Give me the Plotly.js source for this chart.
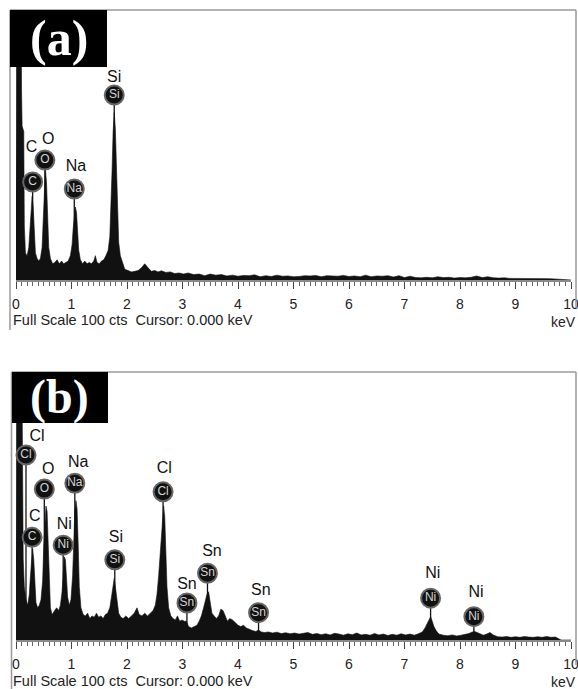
<!DOCTYPE html>
<html><head><meta charset="utf-8">
<script src="https://cdn.plot.ly/plotly-3.0.1.min.js"></script>
<style>html,body{margin:0;padding:0;background:#fff}#chart{width:578px;height:689px}</style>
</head><body><div id="chart"></div>
<script>
// ---------- Data ----------
const tickLabels = ['0','1','2','3','4','5','6','7','8','9','10'];
const tickValues = [0,1,2,3,4,5,6,7,8,9,10];

// Panel (a) spectrum: energy (keV) and counts
const energyA = [0.00,0.02,0.05,0.08,0.10,0.11,0.14,0.15,0.17,0.20,0.23,0.25,0.27,0.29,0.31,0.33,0.35,0.38,0.41,0.44,0.47,0.49,0.51,0.53,0.55,0.57,0.59,0.62,0.66,0.70,0.74,0.78,0.82,0.86,0.90,0.94,0.98,1.01,1.03,1.05,1.07,1.09,1.11,1.13,1.16,1.20,1.24,1.28,1.32,1.36,1.40,1.43,1.46,1.50,1.54,1.58,1.62,1.66,1.69,1.71,1.73,1.75,1.77,1.79,1.81,1.83,1.85,1.88,1.92,1.96,2.02,2.08,2.14,2.20,2.26,2.32,2.38,2.44,2.50,2.56,2.62,2.70,2.78,2.86,2.94,3.02,3.10,3.20,3.30,3.40,3.50,3.60,3.70,3.80,3.90,4.00,4.10,4.20,4.30,4.40,4.50,4.60,4.70,4.80,4.90,5.00,5.10,5.20,5.30,5.40,5.50,5.60,5.70,5.80,5.90,6.00,6.10,6.20,6.30,6.40,6.50,6.60,6.70,6.80,6.90,7.00,7.10,7.20,7.30,7.40,7.50,7.60,7.70,7.80,7.90,8.00,8.10,8.20,8.30,8.40,8.50,8.60,8.70,8.80,8.90,9.00,9.10,9.20,9.30,9.40,9.50,9.60,9.70,9.80,9.86,10.00];
const countsA = [30,150,180,160,70,57,55,20,10,9,12,18,26,31,27,16,10,8,7,8,12,22,34,41,36,22,12,8,6,6.5,7.5,6,7,6,6.5,7,9,13,19,24,27,25,17,11,7.5,6,7,6,6.5,6,7,9,6.5,6,7,7.5,9,11,16,25,40,55,62,56,40,24,14,9,6,4,3.5,3,3.2,3.5,4.5,6,4.5,3.2,3.5,3,3.4,2.8,3,2.4,2.6,2.2,2.6,2,2.2,1.6,2.2,1.8,2,1.5,1.8,1.4,1.7,1.6,1.9,1.2,1.6,1.3,1.8,1.4,1.5,1.2,1.3,1.6,1.5,1.7,1.2,1.6,1.5,1.4,1.7,1.3,1.5,1.2,1.8,1.2,1.5,1.4,1.6,1.1,1.6,0.9,1.4,0.9,0.8,1.0,0.8,1.2,0.9,1.0,0.7,0.9,0.8,1.0,1.5,0.9,1.2,0.8,0.7,0.8,0.6,0.6,0.7,0.5,0.6,0.5,0.6,0.5,0.4,0.3,0,0];

// Panel (a) element markers
const elementsA = ['C','O','Na','Si'];
const markerXA = [0.30,0.52,1.05,1.77];
const markerYA = [36.3,44.4,33.7,68.5];
const labelXA  = [0.28,0.58,1.08,1.77];
const labelYA  = [49.0,51.9,42.0,74.8];

// Panel (b) spectrum
const energyB = [0.00,0.02,0.05,0.08,0.11,0.13,0.15,0.18,0.21,0.24,0.26,0.28,0.30,0.32,0.34,0.36,0.39,0.42,0.45,0.48,0.50,0.52,0.54,0.56,0.58,0.60,0.62,0.65,0.69,0.73,0.77,0.80,0.83,0.85,0.87,0.89,0.91,0.93,0.96,0.99,1.02,1.04,1.06,1.08,1.10,1.12,1.14,1.17,1.21,1.25,1.29,1.33,1.37,1.41,1.45,1.49,1.53,1.57,1.61,1.65,1.69,1.72,1.75,1.77,1.79,1.82,1.85,1.89,1.93,1.98,2.03,2.08,2.13,2.18,2.22,2.27,2.32,2.37,2.42,2.47,2.51,2.54,2.57,2.60,2.63,2.66,2.68,2.70,2.72,2.75,2.79,2.83,2.87,2.91,2.95,2.99,3.03,3.07,3.11,3.16,3.21,3.26,3.30,3.34,3.38,3.41,3.44,3.47,3.50,3.53,3.57,3.61,3.65,3.69,3.73,3.77,3.81,3.85,3.90,3.95,4.00,4.05,4.10,4.15,4.20,4.26,4.32,4.37,4.42,4.48,4.55,4.62,4.70,4.78,4.86,4.94,5.02,5.10,5.18,5.26,5.34,5.42,5.50,5.58,5.66,5.74,5.82,5.90,5.98,6.06,6.14,6.22,6.30,6.38,6.46,6.54,6.62,6.70,6.78,6.86,6.94,7.02,7.10,7.18,7.26,7.32,7.37,7.41,7.44,7.47,7.50,7.53,7.57,7.62,7.70,7.78,7.86,7.94,8.02,8.10,8.16,8.21,8.26,8.31,8.36,8.42,8.48,8.54,8.60,8.68,8.76,8.84,8.92,9.00,9.08,9.16,9.24,9.32,9.40,9.48,9.56,9.64,9.72,9.78,9.82,10.00];
const countsB = [30,150,180,160,90,30,20,15,13,17,24,31,34,30,20,14,12,13,15,22,35,46,50,48,36,20,12,9.5,11,12,11,13,18,26,31,30,22,16,13,15,24,38,48,52,49,36,20,12,9.5,9,10,8,9,8.5,10,8.5,9,8,9.5,10,12,16,21,23,20,14,10,8.5,8,9,8,9,10,12,9.5,9,10,9,10,11,13,17,24,32,42,50,46,32,20,12,9,8,7.5,9,7,7.5,7,7,5,4.5,5,5.5,7,9,12,15,17,18,14,10,9,8,9,11.5,11,9,7,8,7.5,6.5,5.5,5,5.5,4.5,4,3.5,3.2,3.7,3,2.8,3,2.6,2.9,2.4,2.7,2.3,2.6,2.2,2.5,2.8,2.1,2.4,2.0,2.3,1.9,2.5,2.2,1.8,2.3,2.0,2.6,1.9,2.1,1.8,2.4,1.9,2.2,1.7,2.1,1.8,2.3,1.9,2.2,1.8,2.4,3,4.5,6,7.5,8.7,7,5,3.5,2.2,1.8,1.6,1.9,1.5,1.8,2.0,2.4,2.9,3.2,2.8,2.2,1.8,2.2,2.8,1.9,1.2,1.1,1.3,1.0,1.2,1.0,1.3,1.1,1.0,1.2,1.0,1.3,1.0,1.1,0.6,0,0];

// Panel (b) element markers
const elementsB = ['Cl','C','O','Ni','Na','Si','Cl','Sn','Sn','Sn','Ni','Ni'];
const markerXB = [0.18,0.29,0.51,0.85,1.06,1.78,2.65,3.08,3.45,4.37,7.47,8.25];
const markerYB = [69.0,38.3,56.3,35.4,58.5,29.9,55.3,13.8,24.9,10.2,15.6,8.7];
const labelXB  = [0.38,0.34,0.58,0.87,1.12,1.80,2.67,3.08,3.53,4.41,7.51,8.29];
const labelYB  = [75.9,46.0,63.4,42.9,65.9,37.9,63.7,20.5,32.9,18.4,24.5,17.4];

// ---------- Layout helpers ----------
const W = 578, H = 689;
const fx = p => p / W;
const fy = p => 1 - p / H;
const FONT = 'Liberation Sans, Arial, sans-serif';

function stems(xs, ys, xa, ya) {
  const x = [], y = [];
  xs.forEach((v, i) => { x.push(v, v, null); y.push(ys[i], 0, null); });
  return {type:'scatter', mode:'lines', x, y, xaxis:xa, yaxis:ya,
          line:{color:'#111', width:1.3}, hoverinfo:'skip'};
}
function spectrum(xs, ys, xa, ya) {
  return {type:'scatter', mode:'lines', x:xs, y:ys, xaxis:xa, yaxis:ya,
          fill:'tozeroy', fillcolor:'#111', line:{color:'#111', width:0.6}, hoverinfo:'skip'};
}
function markers(xs, ys, names, xa, ya) {
  return {type:'scatter', mode:'markers+text', x:xs, y:ys, text:names, xaxis:xa, yaxis:ya,
          textposition:'middle center', cliponaxis:false,
          textfont:{family:FONT, size:12, color:'#d4d4d4'},
          marker:{size:19, color:'#111', line:{color:'#666', width:2}}, hoverinfo:'skip'};
}
function labels(xs, ys, names, xa, ya) {
  return {type:'scatter', mode:'text', x:xs, y:ys, text:names, xaxis:xa, yaxis:ya,
          textposition:'middle center', cliponaxis:false,
          textfont:{family:FONT, size:16, color:'#111'}, hoverinfo:'skip'};
}

function xAxis(anchor) {
  return {
    anchor, domain:[fx(16), fx(571)], range:[0,10],
    showline:true, linecolor:'#8a8a8a', linewidth:1.5,
    ticks:'outside', ticklen:7, tickwidth:1, tickcolor:'#444',
    tickvals:tickValues, ticktext:tickLabels, ticklabelstandoff:4,
    ticklabeloverflow:'allow',
    tickfont:{family:FONT, size:14, color:'#222'},
    minor:{dtick:0.1, tick0:0, ticks:'outside', ticklen:4, tickwidth:1, tickcolor:'#666', showgrid:false},
    showgrid:false, zeroline:false, fixedrange:true
  };
}
function yAxis(anchor, top, base) {
  return {anchor, domain:[fy(base), fy(top)], range:[0,100], visible:false, fixedrange:true};
}

const lineShape = (x0,y0,x1,y1,c,w) => ({type:'line', xref:'paper', yref:'paper',
  x0:fx(x0), y0:fy(y0), x1:fx(x1), y1:fy(y1), line:{color:c||'#999', width:w||1.5}, layer:'above'});
const rectShape = (x0,y0,x1,y1) => ({type:'rect', xref:'paper', yref:'paper',
  x0:fx(x0), y0:fy(y1), x1:fx(x1), y1:fy(y0), fillcolor:'#000', line:{width:0}, layer:'above'});

const shapes = [
  lineShape(10,10,576,10), lineShape(10,10,10,330), lineShape(576,10,576,308),
  rectShape(10,10,107,67),
  lineShape(11.5,372,576,372), lineShape(11.5,372,11.5,689), lineShape(576,372,576,665),
  rectShape(12,372,108,423)
];

const annText = (x, y, text, size, color, family, anchor, bold) => ({
  xref:'paper', yref:'paper', x:fx(x), y:fy(y), text: bold ? '<b>'+text+'</b>' : text,
  showarrow:false, xanchor:anchor||'center', yanchor:'middle',
  font:{family:family||FONT, size, color}
});

const annotations = [
  annText(58.5, 38, '(a)', 50, '#fff', 'Liberation Serif, Times New Roman, serif', 'center', true),
  annText(59, 397, '(b)', 48, '#fff', 'Liberation Serif, Times New Roman, serif', 'center', true),
  annText(11, 320.5, 'Full Scale 100 cts&nbsp;&nbsp;Cursor: 0.000 keV', 14.5, '#222', FONT, 'left'),
  annText(578, 321.5, 'keV', 14, '#222', FONT, 'right'),
  annText(11, 680.5, 'Full Scale 100 cts&nbsp;&nbsp;Cursor: 0.000 keV', 14.5, '#222', FONT, 'left'),
  annText(578, 681.5, 'keV', 14, '#222', FONT, 'right')
];

const data = [
  stems(markerXA, markerYA, 'x', 'y'),
  spectrum(energyA, countsA, 'x', 'y'),
  markers(markerXA, markerYA, elementsA, 'x', 'y'),
  labels(labelXA, labelYA, elementsA, 'x', 'y'),
  stems(markerXB, markerYB, 'x2', 'y2'),
  spectrum(energyB, countsB, 'x2', 'y2'),
  markers(markerXB, markerYB, elementsB, 'x2', 'y2'),
  labels(labelXB, labelYB, elementsB, 'x2', 'y2')
];

const layout = {
  width:W, height:H, margin:{l:0, r:0, t:0, b:0},
  paper_bgcolor:'#fff', plot_bgcolor:'rgba(0,0,0,0)', showlegend:false,
  xaxis: xAxis('y'), yaxis: yAxis('x', 10, 280),
  xaxis2: xAxis('y2'), yaxis2: yAxis('x2', 372, 640),
  shapes, annotations
};

Plotly.newPlot('chart', data, layout, {staticPlot:true, displayModeBar:false});
</script></body></html>
